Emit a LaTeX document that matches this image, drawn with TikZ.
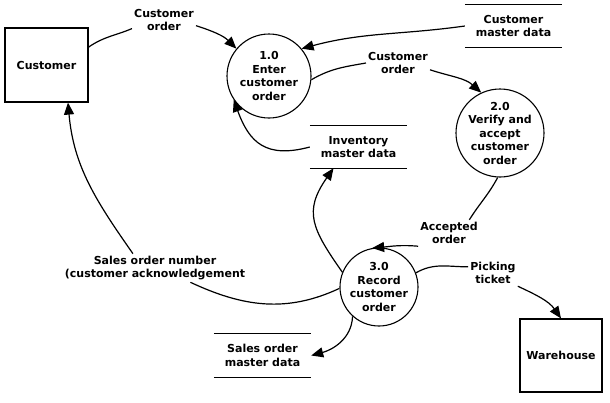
\documentclass[tikz,border=0pt]{standalone}
\usepackage{fontspec}
\setmainfont{DejaVu Sans}
\usetikzlibrary{arrows.meta}
\begin{document}
\begin{tikzpicture}[x=1pt,y=1pt,
  every node/.style={font=\fontsize{11}{13.5}\selectfont\bfseries, align=center},
  ln/.style={line width=1.2pt},
  arr/.style={ln, -{Triangle[length=12pt,width=10pt]}},
  ent/.style={draw, line width=1.2pt, minimum width=83pt, minimum height=74pt, inner sep=0pt},
  proc/.style={draw, circle, line width=1.1pt, inner sep=0pt},
  store/.style={minimum width=97pt, minimum height=42pt, inner sep=0pt,
    append after command={(\tikzlastnode.north west) edge[ln] (\tikzlastnode.north east)
                          (\tikzlastnode.south west) edge[ln] (\tikzlastnode.south east)}},
  lbl/.style={inner sep=2pt}]
\useasboundingbox (0,0) rectangle (610,-402);
% entities
\node[ent] (cust) at (46.5,-65) {Customer};
\node[ent, minimum width=82pt, minimum height=73pt] (wh) at (561,-355.5) {Warehouse};
% stores
\node[store] (cmd) at (513.5,-26) {Customer\\master data};
\node[store] (imd) at (358.5,-147) {Inventory\\master data};
\node[store, minimum height=43pt] (somd) at (262.5,-355.5) {Sales order\\master data};
% processes
\node[proc, minimum size=84pt, label={center:{1.0\\Enter\\customer\\order}}] (p1) at (269,-76) {};
\node[proc, minimum size=88pt, label={center:{2.0\\Verify and\\accept\\customer\\order}}] (p2) at (500,-133) {};
\node[proc, minimum size=78pt, label={center:{3.0\\Record\\customer\\order}}] (p3) at (379,-287) {};
% flow labels
\node[lbl] (l1) at (164,-20) {Customer\\order};
\node[lbl] (l2) at (398,-63) {Customer\\order};
\node[lbl] (acc) at (449,-233) {Accepted\\order};
\node[lbl] (pick) at (493,-273) {Picking\\ticket};
\node[lbl] (sal) at (155,-268) {Sales order number\\(customer acknowledgement};
% flows
\draw[ln] (cust.23) to[out=35, in=203] (l1.195);
\draw[arr] (l1.-10) to[out=-18, in=135] (p1.140);
\draw[arr] (cmd.west) to[out=188, in=15] (p1.40);
\draw[ln] (p1.-5) to[out=30, in=190] (l2.west);
\draw[arr] (l2.-12) to[out=-18, in=138] (p2.115);
\draw[arr] (imd.west) to[out=195, in=-70, looseness=1.3] (p1.214);
\draw[ln] (p2.-93) to[out=-118, in=58] (acc.33);
\draw[arr] (acc.south west) to[out=175, in=5] (p3.100);
\draw[arr] (p3.158) to[out=125, in=-125, looseness=1.3] ([xshift=-25pt]imd.south);
\draw[ln] (p3.182) to[out=205, in=-25] (sal.-22);
\draw[arr] (sal.147) to[out=125, in=-85] ([xshift=21.5pt]cust.south);
\draw[ln] (p3.21) to[out=30, in=180] (pick.166);
\draw[arr] (pick.south east) to[out=-25, in=125] (wh.north);
\draw[arr] (p3.-132) to[out=-92, in=15] (somd.east);
\end{tikzpicture}
\end{document}
